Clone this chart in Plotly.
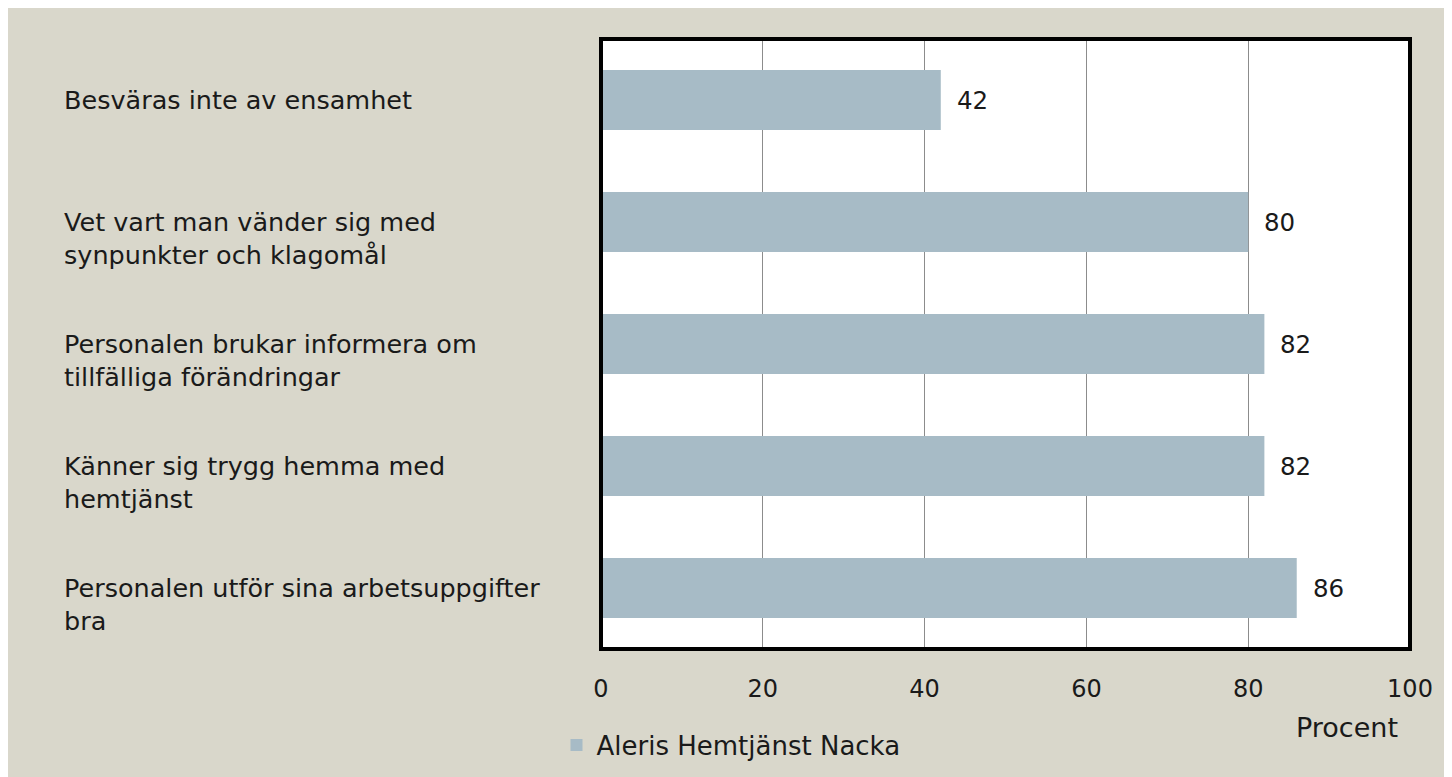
import plotly.graph_objects as go

categories = [
    "Besväras inte av ensamhet",
    "Vet vart man vänder sig med<br>synpunkter och klagomål",
    "Personalen brukar informera om<br>tillfälliga förändringar",
    "Känner sig trygg hemma med<br>hemtjänst",
    "Personalen utför sina arbetsuppgifter<br>bra",
]
values = [42, 80, 82, 82, 86]
series_name = "Aleris Hemtjänst Nacka"
x_ticks = [0, 20, 40, 60, 80, 100]
x_title = "Procent"

FONT = "DejaVu Sans"
FS_LAB = 25.5
FS_NUM = 24.5
BG = "#D9D7CB"
BAR = "#A7BBC6"
TXT = "#1a1a1a"

W, H = 1452, 777
ML, MR, MT, MB = 593, 50, 31, 136
PW = W - ML - MR

ids = list(range(len(categories)))

fig = go.Figure()
fig.add_trace(go.Bar(
    x=values, y=ids, orientation="h", name=series_name,
    marker=dict(color=BAR, line=dict(width=0)),
    showlegend=True,
))

annotations = []
for i, (c, v) in enumerate(zip(categories, values)):
    two = "<br>" in c
    annotations.append(dict(
        x=(54 - ML) / PW, xref="paper", y=i, yref="y",
        text=c, showarrow=False, xanchor="left", yanchor="middle", align="left",
        yshift=-16 if two else 0,
        font=dict(family=FONT, size=FS_LAB, color=TXT),
    ))
    annotations.append(dict(
        x=v, xref="x", y=i, yref="y", text=str(v), showarrow=False,
        xanchor="left", yanchor="middle", xshift=14,
        font=dict(family=FONT, size=FS_NUM, color=TXT),
    ))
annotations.append(dict(
    x=1, xref="paper", y=0, yref="paper", text=x_title, showarrow=False,
    xanchor="right", yanchor="middle", xshift=-10, yshift=-78,
    font=dict(family=FONT, size=27, color=TXT),
))

fig.update_layout(
    width=W, height=H,
    margin=dict(l=ML, r=MR, t=MT, b=MB, autoexpand=False),
    paper_bgcolor=BG, plot_bgcolor="white",
    bargap=0.51,
    font=dict(family=FONT, size=FS_NUM, color=TXT),
    xaxis=dict(range=[0, 100], tickvals=x_ticks, showgrid=True, gridcolor="#8C8C8C",
               gridwidth=1, zeroline=False, showline=False, ticks="outside", ticklen=0,
               ticklabelstandoff=18, tickfont=dict(family=FONT, size=24, color=TXT),
               fixedrange=True),
    yaxis=dict(tickvals=ids, showticklabels=False, autorange="reversed", showgrid=False,
               zeroline=False, showline=False, ticks=""),
    legend=dict(orientation="h", xref="container", x=548.5 / W, xanchor="left",
                yref="container", y=40 / H, yanchor="middle",
                bgcolor="rgba(0,0,0,0)", font=dict(family=FONT, size=26, color=TXT)),
    annotations=annotations,
    shapes=[dict(type="rect", xref="paper", yref="paper", x0=0, x1=1, y0=0, y1=1,
                 line=dict(color="black", width=4), layer="above")],
)

fig.write_html("out.html")
